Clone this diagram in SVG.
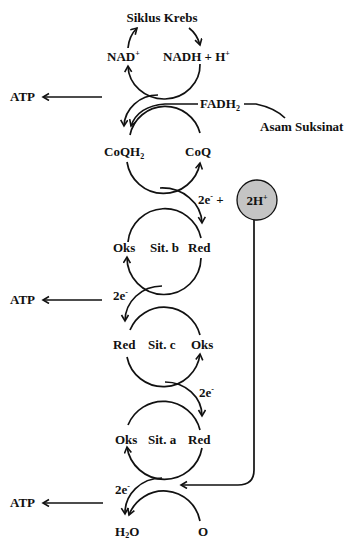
<svg xmlns="http://www.w3.org/2000/svg" width="350" height="542" viewBox="0 0 350 542">
<style>
text{font-family:"Liberation Serif","Times New Roman",serif;font-weight:bold;font-size:13px;fill:#111}
.sup{font-size:8px}
.ln{fill:none;stroke:#111;stroke-width:1.7}
.ar{marker-end:url(#ah)}
</style>
<defs>
<marker id="ah" markerWidth="10" markerHeight="10" refX="7" refY="4" orient="auto" markerUnits="userSpaceOnUse">
<path d="M1,0.5 L7,4 L1,7.5" fill="none" stroke="#111" stroke-width="1.6"/>
</marker>
</defs>
<rect width="350" height="542" fill="#fff"/>

<g id="krebs">
<text x="162" y="22" text-anchor="middle">Siklus Krebs</text>
<text x="107" y="61">NAD<tspan class="sup" dy="-5">+</tspan></text>
<text x="163" y="61">NADH + H<tspan class="sup" dy="-5">+</tspan></text>
<path class="ln ar" d="M128,48 Q129,36 137,28"/>
<path class="ln ar" d="M189,28 Q197,34 200,45"/>
<path class="ln ar" d="M200,64 A36,34 0 0 1 128,66"/>
</g>

<g id="atp1">
<text x="10" y="101">ATP</text>
</g>

<g id="fadh">
<text x="200" y="108">FADH<tspan class="sup" dy="3">2</tspan></text>
</g>
<g id="suksinat">
<text x="260" y="131">Asam Suksinat</text>
</g>

<g id="coq">
<text x="104" y="156">CoQH<tspan class="sup" dy="3">2</tspan></text>
<text x="185" y="156">CoQ</text>
<path class="ln" d="M130,135 A36,36 0 0 1 200,133"/>
<path class="ln ar" d="M127,162 A37,37 0 0 0 200,163"/>
</g>

<g id="h2plus">
<text x="198" y="204">2e<tspan class="sup" dy="-5">-</tspan><tspan dy="5"> +</tspan></text>
<circle cx="257" cy="200" r="20" fill="#c4c4c4" stroke="#111" stroke-width="1.3"/>
<text x="257" y="205" text-anchor="middle">2H<tspan class="sup" dy="-5">+</tspan></text>
</g>

<g id="sitb">
<text x="113" y="252">Oks</text>
<text x="150" y="252">Sit. b</text>
<text x="188" y="252">Red</text>
<path class="ln" d="M128,242 A37,37 0 0 1 201,238"/>
<path class="ln ar" d="M201,258 A37,37 0 0 1 127,257"/>
</g>

<g id="atp2">
<text x="10" y="304">ATP</text>
<text x="113" y="300">2e<tspan class="sup" dy="-5">-</tspan></text>
</g>

<g id="sitc">
<text x="113" y="349">Red</text>
<text x="148" y="349">Sit. c</text>
<text x="191" y="349">Oks</text>
<path class="ln" d="M130,330 A37,37 0 0 1 200,335"/>
<path class="ln ar" d="M127,357 A37,37 0 0 0 200,354"/>
<text x="199" y="397">2e<tspan class="sup" dy="-5">-</tspan></text>
</g>

<g id="sita">
<text x="115" y="444">Oks</text>
<text x="148" y="444">Sit. a</text>
<text x="188" y="444">Red</text>
<path class="ln" d="M128,425 A38,38 0 0 1 200,430"/>
<path class="ln ar" d="M202,448 A38,38 0 0 1 127,447"/>
</g>

<g id="atp3">
<text x="10" y="507">ATP</text>
<text x="115" y="494">2e<tspan class="sup" dy="-5">-</tspan></text>
</g>

<g id="water">
<text x="115" y="536">H<tspan class="sup" dy="2">2</tspan><tspan dy="-2">O</tspan></text>
<text x="198" y="536">O</text>
<path class="ln ar" d="M200,521 A37,37 0 0 0 129,515"/>
</g>

<g id="connectors">
<path class="ln ar" d="M102,97 L43,97"/>
<path class="ln ar" d="M102,300 L43,300"/>
<path class="ln ar" d="M103,503 L43,503"/>
<path class="ln ar" d="M158,95 A34,32 0 0 0 124,126"/>
<path class="ln ar" d="M198,104 L165,104 Q138,106 131,126"/>
<path class="ln" d="M244,104 L256,104 Q275,108 285,118"/>
<path class="ln ar" d="M160,188 A40,36 0 0 1 202,223"/>
<path class="ln ar" d="M162,286 A37,35 0 0 0 125,321"/>
<path class="ln ar" d="M165,382 A37,34 0 0 1 202,416"/>
<path class="ln ar" d="M162,478 A37,35 0 0 0 125,514"/>
<path class="ln ar" d="M254,220 L254,470 Q254,485 238,485 L181,485"/>
</g>
</svg>
